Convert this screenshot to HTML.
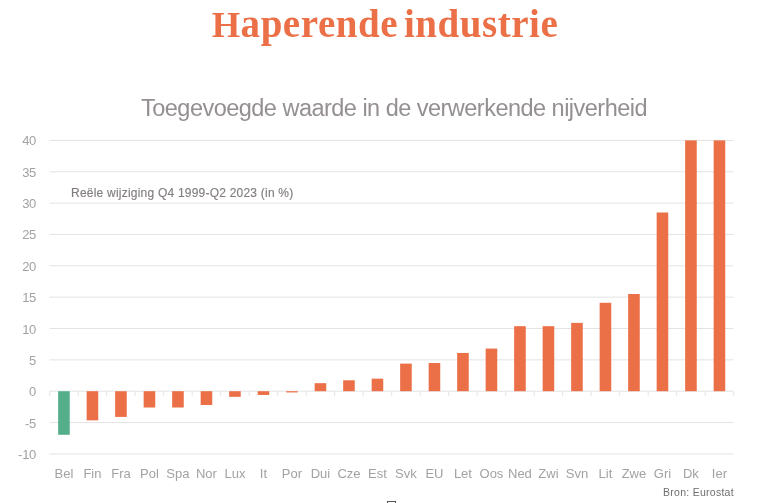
<!DOCTYPE html>
<html><head><meta charset="utf-8">
<style>
html,body{margin:0;padding:0;background:#fff;}
body{width:768px;height:503px;position:relative;overflow:hidden;}
.title{position:absolute;left:1px;top:1.7px;width:768px;text-align:center;font-family:"Liberation Serif",serif;font-weight:700;font-size:39px;color:#EC7047;letter-spacing:0.55px;word-spacing:-4.5px;white-space:nowrap;line-height:44px;}
.sub{position:absolute;left:10px;top:94px;width:768px;text-align:center;font-family:"Liberation Sans",sans-serif;font-size:23.5px;color:#948f92;letter-spacing:-0.52px;white-space:nowrap;line-height:28px;}
.ann{position:absolute;left:71px;top:184.5px;font-family:"Liberation Sans",sans-serif;font-size:12px;color:#827d7f;-webkit-text-stroke:0.15px #827d7f;letter-spacing:0.22px;white-space:nowrap;line-height:16px;}
.yl{position:absolute;left:0;width:36px;letter-spacing:-0.3px;text-align:right;font-family:"Liberation Sans",sans-serif;font-size:13px;color:#a2a2a2;line-height:16px;}
.xl{position:absolute;top:465.5px;width:40px;text-align:center;font-family:"Liberation Sans",sans-serif;font-size:13px;color:#a2a2a2;line-height:16px;white-space:nowrap;}
.src{position:absolute;left:663px;top:485px;font-family:"Liberation Sans",sans-serif;font-size:10.5px;letter-spacing:0.27px;color:#6e6e6e;white-space:nowrap;line-height:14px;}
.box{position:absolute;left:387px;top:501px;width:7px;height:8px;border:1px solid #555;}
svg{position:absolute;left:0;top:0;}
.t{position:absolute;left:0;top:0;width:768px;height:503px;will-change:transform;}
</style></head><body>
<svg width="768" height="503" viewBox="0 0 768 503"><rect x="49.5" y="453.40" width="684" height="1" fill="#e3e3e3"/><rect x="49.5" y="422.05" width="684" height="1" fill="#e3e3e3"/><rect x="49.5" y="390.70" width="684" height="1" fill="#e3e3e3"/><rect x="49.5" y="359.35" width="684" height="1" fill="#e3e3e3"/><rect x="49.5" y="328.00" width="684" height="1" fill="#e3e3e3"/><rect x="49.5" y="296.65" width="684" height="1" fill="#e3e3e3"/><rect x="49.5" y="265.30" width="684" height="1" fill="#e3e3e3"/><rect x="49.5" y="233.95" width="684" height="1" fill="#e3e3e3"/><rect x="49.5" y="202.60" width="684" height="1" fill="#e3e3e3"/><rect x="49.5" y="171.25" width="684" height="1" fill="#e3e3e3"/><rect x="49.5" y="139.90" width="684" height="1" fill="#e3e3e3"/><rect x="49.20" y="391.20" width="1" height="4.5" fill="#e3e3e3"/><rect x="77.70" y="391.20" width="1" height="4.5" fill="#e3e3e3"/><rect x="106.20" y="391.20" width="1" height="4.5" fill="#e3e3e3"/><rect x="134.70" y="391.20" width="1" height="4.5" fill="#e3e3e3"/><rect x="163.20" y="391.20" width="1" height="4.5" fill="#e3e3e3"/><rect x="191.70" y="391.20" width="1" height="4.5" fill="#e3e3e3"/><rect x="220.20" y="391.20" width="1" height="4.5" fill="#e3e3e3"/><rect x="248.70" y="391.20" width="1" height="4.5" fill="#e3e3e3"/><rect x="277.20" y="391.20" width="1" height="4.5" fill="#e3e3e3"/><rect x="305.70" y="391.20" width="1" height="4.5" fill="#e3e3e3"/><rect x="334.20" y="391.20" width="1" height="4.5" fill="#e3e3e3"/><rect x="362.70" y="391.20" width="1" height="4.5" fill="#e3e3e3"/><rect x="391.20" y="391.20" width="1" height="4.5" fill="#e3e3e3"/><rect x="419.70" y="391.20" width="1" height="4.5" fill="#e3e3e3"/><rect x="448.20" y="391.20" width="1" height="4.5" fill="#e3e3e3"/><rect x="476.70" y="391.20" width="1" height="4.5" fill="#e3e3e3"/><rect x="505.20" y="391.20" width="1" height="4.5" fill="#e3e3e3"/><rect x="533.70" y="391.20" width="1" height="4.5" fill="#e3e3e3"/><rect x="562.20" y="391.20" width="1" height="4.5" fill="#e3e3e3"/><rect x="590.70" y="391.20" width="1" height="4.5" fill="#e3e3e3"/><rect x="619.20" y="391.20" width="1" height="4.5" fill="#e3e3e3"/><rect x="647.70" y="391.20" width="1" height="4.5" fill="#e3e3e3"/><rect x="676.20" y="391.20" width="1" height="4.5" fill="#e3e3e3"/><rect x="704.70" y="391.20" width="1" height="4.5" fill="#e3e3e3"/><rect x="733.20" y="391.20" width="1" height="4.5" fill="#e3e3e3"/><rect x="58.15" y="391.20" width="11.6" height="43.58" fill="#55AE8A"/><rect x="86.65" y="391.20" width="11.6" height="29.16" fill="#EC7047"/><rect x="115.15" y="391.20" width="11.6" height="25.71" fill="#EC7047"/><rect x="143.65" y="391.20" width="11.6" height="16.30" fill="#EC7047"/><rect x="172.15" y="391.20" width="11.6" height="16.30" fill="#EC7047"/><rect x="200.65" y="391.20" width="11.6" height="13.79" fill="#EC7047"/><rect x="229.15" y="391.20" width="11.6" height="5.64" fill="#EC7047"/><rect x="257.65" y="391.20" width="11.6" height="3.76" fill="#EC7047"/><rect x="286.15" y="391.20" width="11.6" height="1.25" fill="#EC7047"/><rect x="314.65" y="383.17" width="11.6" height="8.03" fill="#EC7047"/><rect x="343.15" y="380.29" width="11.6" height="10.91" fill="#EC7047"/><rect x="371.65" y="378.66" width="11.6" height="12.54" fill="#EC7047"/><rect x="400.15" y="363.61" width="11.6" height="27.59" fill="#EC7047"/><rect x="428.65" y="362.99" width="11.6" height="28.21" fill="#EC7047"/><rect x="457.15" y="352.95" width="11.6" height="38.25" fill="#EC7047"/><rect x="485.65" y="348.56" width="11.6" height="42.64" fill="#EC7047"/><rect x="514.15" y="326.18" width="11.6" height="65.02" fill="#EC7047"/><rect x="542.65" y="326.18" width="11.6" height="65.02" fill="#EC7047"/><rect x="571.15" y="322.86" width="11.6" height="68.34" fill="#EC7047"/><rect x="599.65" y="302.79" width="11.6" height="88.41" fill="#EC7047"/><rect x="628.15" y="294.01" width="11.6" height="97.19" fill="#EC7047"/><rect x="656.65" y="212.50" width="11.6" height="178.69" fill="#EC7047"/><rect x="685.15" y="140.40" width="11.6" height="250.80" fill="#EC7047"/><rect x="713.65" y="140.40" width="11.6" height="250.80" fill="#EC7047"/></svg>
<div class="t"><div class="title"><span style="font-size:36.5px">H</span>aperende industrie</div>
<div class="sub">Toegevoegde waarde in de verwerkende nijverheid</div>
<div class="ann">Reële wijziging Q4 1999-Q2 2023 (in %)</div>
<div class="yl" style="top:446.9px">-10</div><div class="yl" style="top:415.6px">-5</div><div class="yl" style="top:384.2px">0</div><div class="yl" style="top:352.8px">5</div><div class="yl" style="top:321.5px">10</div><div class="yl" style="top:290.1px">15</div><div class="yl" style="top:258.8px">20</div><div class="yl" style="top:227.4px">25</div><div class="yl" style="top:196.1px">30</div><div class="yl" style="top:164.8px">35</div><div class="yl" style="top:133.4px">40</div>
<div class="xl" style="left:43.95px">Bel</div><div class="xl" style="left:72.45px">Fin</div><div class="xl" style="left:100.95px">Fra</div><div class="xl" style="left:129.45px">Pol</div><div class="xl" style="left:157.95px">Spa</div><div class="xl" style="left:186.45px">Nor</div><div class="xl" style="left:214.95px">Lux</div><div class="xl" style="left:243.45px">It</div><div class="xl" style="left:271.95px">Por</div><div class="xl" style="left:300.45px">Dui</div><div class="xl" style="left:328.95px">Cze</div><div class="xl" style="left:357.45px">Est</div><div class="xl" style="left:385.95px">Svk</div><div class="xl" style="left:414.45px">EU</div><div class="xl" style="left:442.95px">Let</div><div class="xl" style="left:471.45px">Oos</div><div class="xl" style="left:499.95px">Ned</div><div class="xl" style="left:528.45px">Zwi</div><div class="xl" style="left:556.95px">Svn</div><div class="xl" style="left:585.45px">Lit</div><div class="xl" style="left:613.95px">Zwe</div><div class="xl" style="left:642.45px">Gri</div><div class="xl" style="left:670.95px">Dk</div><div class="xl" style="left:699.45px">Ier</div>
<div class="src">Bron: Eurostat</div>
<div class="box"></div></div>
</body></html>
